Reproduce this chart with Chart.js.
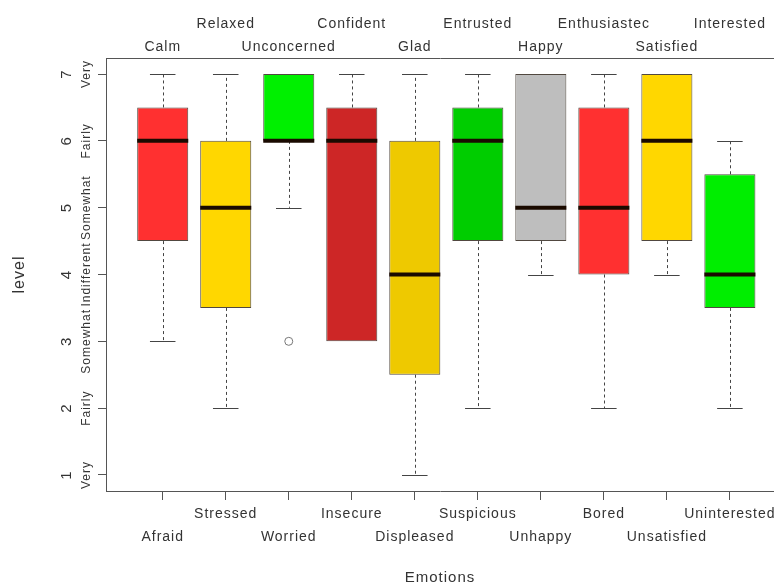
<!DOCTYPE html>
<html>
<head>
<meta charset="UTF-8">
<title>Emotions boxplot</title>
<script src="https://cdn.jsdelivr.net/npm/chart.js"></script>
<style>
  html, body { margin: 0; padding: 0; background: #fff; }
</style>
</head>
<body>
<canvas id="chart" width="774" height="587"></canvas>
<script>
// Negative emotions (bottom axis) and their positive counterparts (top axis)
const negLabels = ['Afraid', 'Stressed', 'Worried', 'Insecure', 'Displeased', 'Suspicious', 'Unhappy', 'Bored', 'Unsatisfied', 'Uninterested'];
const posLabels = ['Calm', 'Relaxed', 'Unconcerned', 'Confident', 'Glad', 'Entrusted', 'Happy', 'Enthusiastec', 'Satisfied', 'Interested'];

// Box statistics per emotion
const whiskerLow  = [3, 2, 5, 3, 1, 2, 4, 2, 4, 2];
const boxLow      = [4.5, 3.5, 6, 3, 2.5, 4.5, 4.5, 4, 4.5, 3.5];
const medians     = [6, 5, 6, 6, 4, 6, 5, 5, 6, 4];
const boxHigh     = [6.5, 6, 7, 6.5, 6, 6.5, 7, 6.5, 7, 5.5];
const whiskerHigh = [7, 7, 7, 7, 7, 7, 7, 7, 7, 6];

// Outliers (group number, value)
const outlierGroup = [3];
const outlierValue = [3];

const boxColors = ['#ff3030', '#ffd700', '#00f000', '#cd2626', '#eec900', '#00cd00', '#bebebe', '#ff3030', '#ffd700', '#00ee00'];

// y axis ticks
const levelTicks = [1, 2, 3, 4, 5, 6, 7];
const levelWords = ['Very', 'Fairly', 'Somewhat', 'Indifferent', 'Somewhat', 'Fairly', 'Very'];

const FONT = "'Liberation Sans', Arial, sans-serif";
const TEXT = '#333';
const AXIS = '#555';

// the R device spaces its letters a little wider than Arial
const spacing = {
  id: 'spacing',
  beforeUpdate(chart) { chart.ctx.letterSpacing = '1px'; },
  beforeDraw(chart) { chart.ctx.letterSpacing = '1px'; }
};

// whiskers + medians, drawn through the scales
const boxExtras = {
  id: 'boxExtras',
  afterDatasetsDraw(chart) {
    const ctx = chart.ctx;
    const xs = chart.scales.x, ys = chart.scales.y;
    const bars = chart.getDatasetMeta(0).data;
    ctx.save();
    for (let i = 0; i < medians.length; i++) {
      const cx = xs.getPixelForValue(i + 1);
      const w = bars[i].width;
      const cap = w / 4;
      ctx.strokeStyle = '#444';
      ctx.lineWidth = 1;
      // upper whisker
      if (whiskerHigh[i] > boxHigh[i]) {
        ctx.setLineDash([3, 3]);
        ctx.beginPath();
        ctx.moveTo(Math.round(cx) + 0.5, ys.getPixelForValue(boxHigh[i]));
        ctx.lineTo(Math.round(cx) + 0.5, ys.getPixelForValue(whiskerHigh[i]));
        ctx.stroke();
        ctx.setLineDash([]);
        const yy = Math.round(ys.getPixelForValue(whiskerHigh[i])) + 0.5;
        ctx.beginPath();
        ctx.moveTo(cx - cap, yy);
        ctx.lineTo(cx + cap, yy);
        ctx.stroke();
      }
      // lower whisker
      if (whiskerLow[i] < boxLow[i]) {
        ctx.setLineDash([3, 3]);
        ctx.beginPath();
        ctx.moveTo(Math.round(cx) + 0.5, ys.getPixelForValue(boxLow[i]));
        ctx.lineTo(Math.round(cx) + 0.5, ys.getPixelForValue(whiskerLow[i]));
        ctx.stroke();
        ctx.setLineDash([]);
        const yy = Math.round(ys.getPixelForValue(whiskerLow[i])) + 0.5;
        ctx.beginPath();
        ctx.moveTo(cx - cap, yy);
        ctx.lineTo(cx + cap, yy);
        ctx.stroke();
      }
      // median
      ctx.strokeStyle = '#1a0a00';
      ctx.lineWidth = 4;
      const my = ys.getPixelForValue(medians[i]);
      ctx.beginPath();
      ctx.moveTo(cx - w / 2, my);
      ctx.lineTo(cx + w / 2, my);
      ctx.stroke();
    }
    ctx.restore();
  }
};

// rotated y tick labels (number + word), like R's las=0
const yLabels = {
  id: 'yLabels',
  afterDraw(chart) {
    const ctx = chart.ctx;
    const ys = chart.scales.y;
    ctx.save();
    ctx.fillStyle = TEXT;
    ctx.textAlign = 'center';
    ctx.textBaseline = 'middle';
    ctx.letterSpacing = '1px';
    levelTicks.forEach((v, i) => {
      const y = ys.getPixelForValue(v);
      ctx.save();
      ctx.translate(67, y);
      ctx.rotate(-Math.PI / 2);
      ctx.font = '15px ' + FONT;
      ctx.fillText(String(v), 0, 0);
      ctx.restore();
      ctx.save();
      ctx.translate(87, y);
      ctx.rotate(-Math.PI / 2);
      ctx.font = '12px ' + FONT;
      ctx.fillText(levelWords[i], 0, 0);
      ctx.restore();
    });
    ctx.restore();
  }
};

const ctx = document.getElementById('chart').getContext('2d');
new Chart(ctx, {
  data: {
    datasets: [{
      type: 'bar',
      xAxisID: 'x',
      yAxisID: 'y',
      data: negLabels.map((_, i) => ({ x: i + 1, y: [boxLow[i], boxHigh[i]] })),
      backgroundColor: boxColors,
      borderColor: 'rgba(50,40,30,0.85)',
      borderWidth: 1,
      borderSkipped: false,
      categoryPercentage: 0.81,
      barPercentage: 1.0
    }, {
      type: 'scatter',
      xAxisID: 'x',
      yAxisID: 'y',
      data: outlierGroup.map((g, i) => ({ x: g, y: outlierValue[i] })),
      pointStyle: 'circle',
      pointRadius: 4,
      borderColor: '#777',
      borderWidth: 1,
      backgroundColor: 'rgba(0,0,0,0)'
    }]
  },
  options: {
    responsive: false,
    animation: false,
    layout: { padding: 0, autoPadding: false },
    plugins: { legend: { display: false }, tooltip: { enabled: false } },
    scales: {
      x: {
        type: 'linear',
        position: 'bottom',
        offset: false,
        min: 0.1,
        max: 10.7,
        afterBuildTicks: s => { s.ticks = negLabels.map((_, i) => ({ value: i + 1 })); },
        afterFit: s => { s.height = 96; s.paddingLeft = 0; s.paddingRight = 0; },
        grid: { offset: false, drawOnChartArea: false, drawTicks: true, tickLength: 9, tickColor: AXIS, tickWidth: 1 },
        border: { display: true, color: AXIS, width: 1 },
        ticks: {
          autoSkip: false,
          maxRotation: 0,
          minRotation: 0,
          padding: 3,
          color: TEXT,
          font: { family: FONT, size: 14, lineHeight: 1.64 },
          callback: v => {
            const i = Math.round(v) - 1;
            return i % 2 === 0 ? ['', negLabels[i]] : [negLabels[i], ''];
          }
        },
        title: { display: true, text: 'Emotions', color: TEXT, font: { family: FONT, size: 15 }, padding: { top: 0, bottom: 0 } }
      },
      x2: {
        type: 'linear',
        position: 'top',
        offset: false,
        min: 0.1,
        max: 10.7,
        afterBuildTicks: s => { s.ticks = posLabels.map((_, i) => ({ value: i + 1 })); },
        afterFit: s => { s.height = 58; s.paddingLeft = 0; s.paddingRight = 0; },
        grid: { display: false, offset: false, drawOnChartArea: false, drawTicks: false },
        border: { display: true, color: AXIS, width: 1 },
        ticks: {
          autoSkip: false,
          maxRotation: 0,
          minRotation: 0,
          padding: -1,
          color: TEXT,
          font: { family: FONT, size: 14, lineHeight: 1.64 },
          callback: v => {
            const i = Math.round(v) - 1;
            return i % 2 === 0 ? ['', posLabels[i]] : [posLabels[i], ''];
          }
        }
      },
      y: {
        type: 'linear',
        position: 'left',
        min: 0.76,
        max: 7.24,
        afterBuildTicks: s => { s.ticks = levelTicks.map(v => ({ value: v })); },
        afterFit: s => { s.width = 106; },
        grid: { drawOnChartArea: false, drawTicks: true, tickLength: 8, tickColor: AXIS, tickWidth: 1 },
        border: { display: true, color: AXIS, width: 1 },
        ticks: { display: false },
        title: { display: true, text: 'level', color: TEXT, font: { family: FONT, size: 16 }, padding: { top: 10, bottom: 0 } }
      }
    }
  },
  plugins: [spacing, boxExtras, yLabels]
});
</script>
</body>
</html>
